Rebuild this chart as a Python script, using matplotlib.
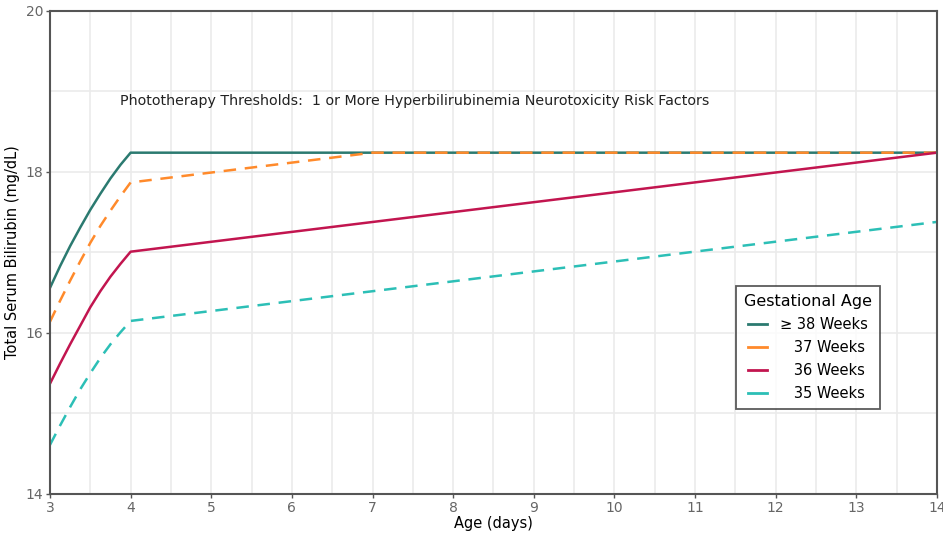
import matplotlib.pyplot as plt
from matplotlib.lines import Line2D

# age in days, threshold in mg/dL
age_early = [3, 3.125, 3.25, 3.375, 3.5, 3.625, 3.75, 3.875, 4]
wk38_early = [16.56, 16.83, 17.08, 17.31, 17.53, 17.73, 17.92, 18.09, 18.24]
wk37_early = [16.14, 16.40, 16.65, 16.89, 17.12, 17.33, 17.52, 17.70, 17.87]
wk36_early = [15.37, 15.62, 15.86, 16.09, 16.32, 16.52, 16.70, 16.86, 17.01]
wk35_early = [14.61, 14.85, 15.08, 15.30, 15.50, 15.69, 15.86, 16.01, 16.15]

wk38_late_age = [4, 14]
wk38_late = [18.24, 18.24]
wk37_late_age = [4, 7, 14]
wk37_late = [17.87, 18.24, 18.24]
wk36_late_age = [4, 14]
wk36_late = [17.01, 18.24]
wk35_late_age = [4, 14]
wk35_late = [16.15, 17.38]

labels = ['\u2265 38 Weeks', '   37 Weeks', '   36 Weeks', '   35 Weeks']
colors = ['#2b7a70', '#ff8a2b', '#c2154f', '#2cbfb6']

fig = plt.figure(figsize=(9.43, 5.39), dpi=100)
ax = fig.add_axes([0.053, 0.0835, 0.9406, 0.8961])

ax.plot(age_early + wk38_late_age[1:], wk38_early + wk38_late[1:], color=colors[0], lw=1.8)
ax.plot(age_early + wk37_late_age[1:], wk37_early + wk37_late[1:], color=colors[1], lw=1.8,
        ls=(0, (5, 3.5)))
ax.plot(age_early + wk36_late_age[1:], wk36_early + wk36_late[1:], color=colors[2], lw=1.8)
ax.plot(age_early + wk35_late_age[1:], wk35_early + wk35_late[1:], color=colors[3], lw=1.8,
        ls=(0, (5, 3.5)))

ax.set_xlim(3, 14)
ax.set_ylim(14, 20)
ax.set_xticks(range(3, 15))
ax.set_yticks([14, 16, 18, 20])
ax.set_xticks([x + 0.5 for x in range(3, 14)], minor=True)
ax.set_yticks([15, 17, 19], minor=True)
ax.grid(True, which='both', color='#ebebeb', lw=1.2)
ax.set_axisbelow(True)
ax.tick_params(which='minor', length=0)
ax.tick_params(which='major', length=3, width=1, color='#555555', labelcolor='#666666',
               labelsize=10, pad=2)
for s in ax.spines.values():
    s.set_color('#555555')
    s.set_linewidth(1.5)

ax.set_xlabel('Age (days)', fontsize=10.5, labelpad=1)
ax.set_ylabel('Total Serum Bilirubin (mg/dL)', fontsize=10.5, labelpad=4)

ax.text(3.87, 18.88, 'Phototherapy Thresholds:  1 or More Hyperbilirubinemia Neurotoxicity Risk Factors',
        fontsize=10.3, color='#222222', va='center')

handles = [Line2D([], [], color=c, lw=2) for c in colors]
leg = ax.legend(handles, labels, title='Gestational Age', loc='upper left',
                bbox_to_anchor=(0.765, 0.445), fontsize=10.5, title_fontsize=11.5,
                handlelength=1.3, handletextpad=0.9, labelspacing=0.55,
                frameon=True, fancybox=False, edgecolor='#333333', borderpad=0.55)
leg.get_frame().set_linewidth(1.3)

fig.savefig('out.png', dpi=100)
